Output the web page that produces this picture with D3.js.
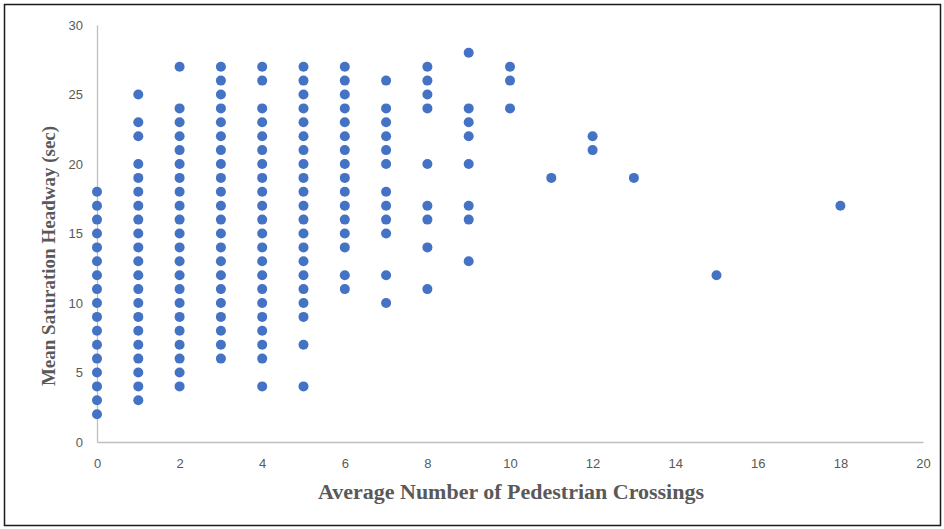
<!DOCTYPE html>
<html>
<head>
<meta charset="utf-8">
<script src="https://cdn.jsdelivr.net/npm/d3@7"></script>
<style>
  html, body { margin: 0; padding: 0; background: #fff; }
  svg { display: block; }
</style>
</head>
<body>
<svg id="chart" width="944" height="529"></svg>
<script>
// Observed headways (sec) grouped by average pedestrian crossings
const crossings = [0, 1, 2, 3, 4, 5, 6, 7, 8, 9, 10, 11, 12, 13, 15, 18];
const headways = [
  [2, 3, 4, 5, 6, 7, 8, 9, 10, 11, 12, 13, 14, 15, 16, 17, 18],
  [3, 4, 5, 6, 7, 8, 9, 10, 11, 12, 13, 14, 15, 16, 17, 18, 19, 20, 22, 23, 25],
  [4, 5, 6, 7, 8, 9, 10, 11, 12, 13, 14, 15, 16, 17, 18, 19, 20, 21, 22, 23, 24, 27],
  [6, 7, 8, 9, 10, 11, 12, 13, 14, 15, 16, 17, 18, 19, 20, 21, 22, 23, 24, 25, 26, 27],
  [4, 6, 7, 8, 9, 10, 11, 12, 13, 14, 15, 16, 17, 18, 19, 20, 21, 22, 23, 24, 26, 27],
  [4, 7, 9, 10, 11, 12, 13, 14, 15, 16, 17, 18, 19, 20, 21, 22, 23, 24, 25, 26, 27],
  [11, 12, 14, 15, 16, 17, 18, 19, 20, 21, 22, 23, 24, 25, 26, 27],
  [10, 12, 15, 16, 17, 18, 20, 21, 22, 23, 24, 26],
  [11, 14, 16, 17, 20, 24, 25, 26, 27],
  [13, 16, 17, 20, 22, 23, 24, 28],
  [24, 26, 27],
  [19],
  [21, 22],
  [19],
  [12],
  [17]
];
const xTicks = [0, 2, 4, 6, 8, 10, 12, 14, 16, 18, 20];
const yTicks = [0, 5, 10, 15, 20, 25, 30];

const points = crossings.flatMap((c, i) => headways[i].map(h => ({ x: c, y: h })));

const svg = d3.select("#chart");

// Outer frame
svg.append("rect")
  .attr("x", 4.5).attr("y", 4.5)
  .attr("width", 936).attr("height", 521)
  .attr("fill", "#fff")
  .attr("stroke", "#1a1a1a")
  .attr("stroke-width", 1.5);

const x = d3.scaleLinear().domain([0, 20]).range([97, 923]);
const y = d3.scaleLinear().domain([0, 30]).range([442, 25]);

const tickFont = "'Liberation Sans Narrow', 'Liberation Sans', Arial, sans-serif";

// X axis
const xAxis = svg.append("g")
  .attr("transform", `translate(0,${y(0)})`)
  .call(d3.axisBottom(x).tickValues(xTicks).tickSize(0).tickPadding(17));
xAxis.select(".domain").attr("stroke", "#bfbfbf").attr("stroke-width", 1.3);
xAxis.selectAll("text")
  .attr("fill", "#595959")
  .style("font-family", tickFont)
  .style("font-size", "13px");

// Y axis
const yAxis = svg.append("g")
  .attr("transform", `translate(${x(0)},0)`)
  .call(d3.axisLeft(y).tickValues(yTicks).tickSize(0).tickPadding(14));
yAxis.select(".domain").attr("stroke", "#bfbfbf").attr("stroke-width", 1.3);
yAxis.selectAll("text")
  .attr("fill", "#595959")
  .style("font-family", tickFont)
  .style("font-size", "13px");

// Points
svg.append("g")
  .selectAll("circle")
  .data(points)
  .join("circle")
  .attr("cx", d => x(d.x))
  .attr("cy", d => y(d.y))
  .attr("r", 5)
  .attr("fill", "#4472C4");

// Axis titles
const titleFont = "'Liberation Serif', 'Times New Roman', serif";
svg.append("text")
  .attr("x", 511).attr("y", 499)
  .attr("text-anchor", "middle")
  .attr("fill", "#595959")
  .attr("textLength", 386)
  .attr("lengthAdjust", "spacingAndGlyphs")
  .style("font-family", titleFont)
  .style("font-weight", "bold")
  .style("font-size", "20px")
  .text("Average Number of Pedestrian Crossings");

svg.append("text")
  .attr("transform", "translate(55,256) rotate(-90)")
  .attr("text-anchor", "middle")
  .attr("fill", "#595959")
  .style("font-family", titleFont)
  .style("font-weight", "bold")
  .style("font-size", "19px")
  .text("Mean Saturation Headway (sec)");
</script>
</body>
</html>
